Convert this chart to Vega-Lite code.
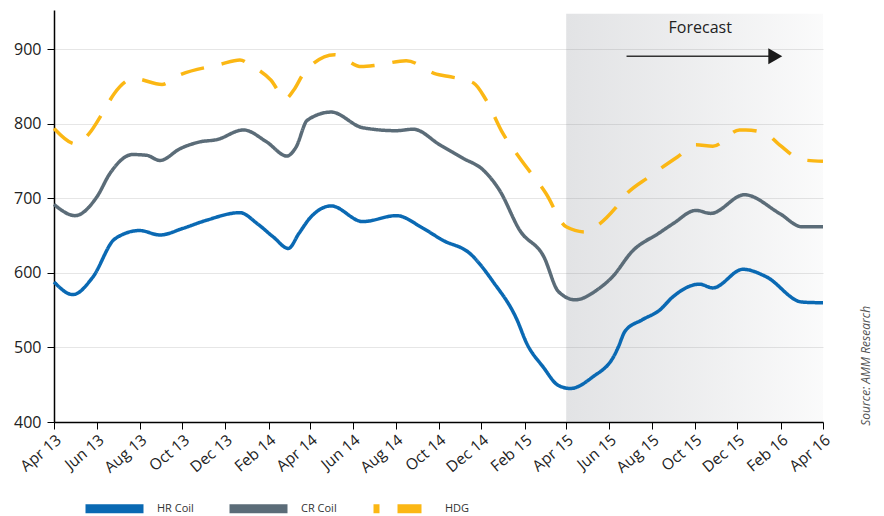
{
  "$schema": "https://vega.github.io/schema/vega-lite/v6.json",
  "width": 769,
  "height": 412,
  "autosize": {"type": "none"},
  "padding": {"left": 54, "top": 10, "right": 61, "bottom": 94},
  "background": "white",
  "config": {"view": {"stroke": null}, "font": "Open Sans"},
  "encoding": {
    "x": {
      "field": "date", "type": "temporal",
      "scale": {"type": "utc", "domain": [{"year": 2013, "month": "Apr", "date": 1, "utc": true}, {"year": 2016, "month": "Apr", "date": 1, "utc": true}]},
      "axis": {
        "title": null,
        "values": [
          {"year": 2013, "month": "Apr", "date": 1, "utc": true}, {"year": 2013, "month": "Jun", "date": 1, "utc": true},
          {"year": 2013, "month": "Aug", "date": 1, "utc": true}, {"year": 2013, "month": "Oct", "date": 1, "utc": true},
          {"year": 2013, "month": "Dec", "date": 1, "utc": true}, {"year": 2014, "month": "Feb", "date": 1, "utc": true},
          {"year": 2014, "month": "Apr", "date": 1, "utc": true}, {"year": 2014, "month": "Jun", "date": 1, "utc": true},
          {"year": 2014, "month": "Aug", "date": 1, "utc": true}, {"year": 2014, "month": "Oct", "date": 1, "utc": true},
          {"year": 2014, "month": "Dec", "date": 1, "utc": true}, {"year": 2015, "month": "Feb", "date": 1, "utc": true},
          {"year": 2015, "month": "Apr", "date": 1, "utc": true}, {"year": 2015, "month": "Jun", "date": 1, "utc": true},
          {"year": 2015, "month": "Aug", "date": 1, "utc": true}, {"year": 2015, "month": "Oct", "date": 1, "utc": true},
          {"year": 2015, "month": "Dec", "date": 1, "utc": true}, {"year": 2016, "month": "Feb", "date": 1, "utc": true},
          {"year": 2016, "month": "Apr", "date": 1, "utc": true}
        ],
        "labelExpr": "utcFormat(datum.value, '%b %y')",
        "labelAngle": -40, "labelAlign": "right", "labelBaseline": "top",
        "labelFontSize": 15.5, "labelColor": "#222", "labelPadding": 3,
        "labelOverlap": false, "labelFlush": false,
        "tickSize": 7, "tickColor": "#000", "domainColor": "#000", "domainWidth": 1.5, "grid": false
      }
    },
    "y": {
      "field": "value", "type": "quantitative",
      "scale": {"domain": [400, 953], "nice": false, "zero": false},
      "axis": {
        "title": null, "values": [400, 500, 600, 700, 800, 900],
        "labelFontSize": 16, "labelColor": "#222", "labelPadding": 6,
        "tickSize": 7, "tickColor": "#000", "domainColor": "#000", "domainWidth": 1.5,
        "grid": true, "gridColor": "#e6e6e6", "gridWidth": 1.2
      }
    }
  },
  "layer": [
    {
      "data": {"values": [{"date": "2015-04-01", "date2": "2016-04-01", "value": 400, "value2": 948}]},
      "mark": {"type": "rect", "fill": {"gradient": "linear", "x1": 0, "x2": 1, "y1": 0, "y2": 0, "stops": [{"offset": 0, "color": "rgba(110,115,125,0.2)"}, {"offset": 0.5, "color": "rgba(110,115,125,0.12)"}, {"offset": 1, "color": "rgba(110,115,125,0.03)"}]}},
      "encoding": {"x2": {"field": "date2"}, "y2": {"field": "value2"}}
    },
    {
      "data": {"values": [
        {"series": "HR Coil", "date": "2013-04-01", "value": 588}, {"series": "HR Coil", "date": "2013-04-28", "value": 571},
        {"series": "HR Coil", "date": "2013-05-26", "value": 594}, {"series": "HR Coil", "date": "2013-06-27", "value": 646},
        {"series": "HR Coil", "date": "2013-08-01", "value": 657}, {"series": "HR Coil", "date": "2013-08-30", "value": 651},
        {"series": "HR Coil", "date": "2013-10-02", "value": 660}, {"series": "HR Coil", "date": "2013-11-05", "value": 671},
        {"series": "HR Coil", "date": "2013-12-22", "value": 681}, {"series": "HR Coil", "date": "2014-01-16", "value": 666},
        {"series": "HR Coil", "date": "2014-02-08", "value": 648}, {"series": "HR Coil", "date": "2014-03-01", "value": 633},
        {"series": "HR Coil", "date": "2014-03-16", "value": 653}, {"series": "HR Coil", "date": "2014-04-01", "value": 674},
        {"series": "HR Coil", "date": "2014-05-01", "value": 690}, {"series": "HR Coil", "date": "2014-06-15", "value": 669},
        {"series": "HR Coil", "date": "2014-08-02", "value": 677}, {"series": "HR Coil", "date": "2014-09-09", "value": 660},
        {"series": "HR Coil", "date": "2014-10-07", "value": 644}, {"series": "HR Coil", "date": "2014-11-15", "value": 626},
        {"series": "HR Coil", "date": "2014-12-18", "value": 588}, {"series": "HR Coil", "date": "2015-01-20", "value": 539},
        {"series": "HR Coil", "date": "2015-02-04", "value": 505}, {"series": "HR Coil", "date": "2015-02-27", "value": 474},
        {"series": "HR Coil", "date": "2015-03-21", "value": 449}, {"series": "HR Coil", "date": "2015-04-07", "value": 445},
        {"series": "HR Coil", "date": "2015-05-08", "value": 460}, {"series": "HR Coil", "date": "2015-06-10", "value": 492},
        {"series": "HR Coil", "date": "2015-06-14", "value": 500}, {"series": "HR Coil", "date": "2015-06-24", "value": 522},
        {"series": "HR Coil", "date": "2015-07-18", "value": 537}, {"series": "HR Coil", "date": "2015-08-12", "value": 550},
        {"series": "HR Coil", "date": "2015-08-31", "value": 568}, {"series": "HR Coil", "date": "2015-10-08", "value": 585},
        {"series": "HR Coil", "date": "2015-10-27", "value": 580}, {"series": "HR Coil", "date": "2015-12-09", "value": 605},
        {"series": "HR Coil", "date": "2016-01-11", "value": 595}, {"series": "HR Coil", "date": "2016-03-02", "value": 561},
        {"series": "HR Coil", "date": "2016-04-01", "value": 560},
        {"series": "CR Coil", "date": "2013-04-01", "value": 692}, {"series": "CR Coil", "date": "2013-05-01", "value": 677},
        {"series": "CR Coil", "date": "2013-06-01", "value": 702}, {"series": "CR Coil", "date": "2013-06-20", "value": 734},
        {"series": "CR Coil", "date": "2013-07-22", "value": 759}, {"series": "CR Coil", "date": "2013-08-11", "value": 758},
        {"series": "CR Coil", "date": "2013-08-30", "value": 751}, {"series": "CR Coil", "date": "2013-09-28", "value": 767},
        {"series": "CR Coil", "date": "2013-10-26", "value": 776}, {"series": "CR Coil", "date": "2013-11-19", "value": 779},
        {"series": "CR Coil", "date": "2013-12-27", "value": 792}, {"series": "CR Coil", "date": "2014-01-29", "value": 776},
        {"series": "CR Coil", "date": "2014-02-27", "value": 757}, {"series": "CR Coil", "date": "2014-03-12", "value": 769},
        {"series": "CR Coil", "date": "2014-03-28", "value": 805}, {"series": "CR Coil", "date": "2014-05-01", "value": 816},
        {"series": "CR Coil", "date": "2014-06-15", "value": 795}, {"series": "CR Coil", "date": "2014-08-02", "value": 791},
        {"series": "CR Coil", "date": "2014-08-26", "value": 793}, {"series": "CR Coil", "date": "2014-10-03", "value": 772},
        {"series": "CR Coil", "date": "2014-11-05", "value": 754}, {"series": "CR Coil", "date": "2014-12-04", "value": 738},
        {"series": "CR Coil", "date": "2014-12-27", "value": 711}, {"series": "CR Coil", "date": "2015-01-25", "value": 657},
        {"series": "CR Coil", "date": "2015-02-28", "value": 622}, {"series": "CR Coil", "date": "2015-03-21", "value": 575},
        {"series": "CR Coil", "date": "2015-04-14", "value": 564}, {"series": "CR Coil", "date": "2015-05-16", "value": 578},
        {"series": "CR Coil", "date": "2015-06-06", "value": 595}, {"series": "CR Coil", "date": "2015-07-04", "value": 629},
        {"series": "CR Coil", "date": "2015-08-12", "value": 654}, {"series": "CR Coil", "date": "2015-08-31", "value": 666},
        {"series": "CR Coil", "date": "2015-10-03", "value": 684}, {"series": "CR Coil", "date": "2015-10-24", "value": 680},
        {"series": "CR Coil", "date": "2015-12-11", "value": 705}, {"series": "CR Coil", "date": "2016-01-30", "value": 680},
        {"series": "CR Coil", "date": "2016-03-02", "value": 662}, {"series": "CR Coil", "date": "2016-04-01", "value": 662},
        {"series": "HDG", "date": "2013-04-01", "value": 794}, {"series": "HDG", "date": "2013-05-03", "value": 773},
        {"series": "HDG", "date": "2013-05-21", "value": 787}, {"series": "HDG", "date": "2013-06-10", "value": 816},
        {"series": "HDG", "date": "2013-06-26", "value": 841}, {"series": "HDG", "date": "2013-07-24", "value": 861},
        {"series": "HDG", "date": "2013-09-02", "value": 853}, {"series": "HDG", "date": "2013-09-23", "value": 864},
        {"series": "HDG", "date": "2013-11-24", "value": 880}, {"series": "HDG", "date": "2013-12-22", "value": 886},
        {"series": "HDG", "date": "2014-01-06", "value": 879}, {"series": "HDG", "date": "2014-02-04", "value": 859},
        {"series": "HDG", "date": "2014-02-25", "value": 834}, {"series": "HDG", "date": "2014-03-09", "value": 846},
        {"series": "HDG", "date": "2014-03-23", "value": 868}, {"series": "HDG", "date": "2014-05-06", "value": 893},
        {"series": "HDG", "date": "2014-06-13", "value": 877}, {"series": "HDG", "date": "2014-07-06", "value": 879},
        {"series": "HDG", "date": "2014-08-16", "value": 885}, {"series": "HDG", "date": "2014-09-28", "value": 867},
        {"series": "HDG", "date": "2014-10-14", "value": 864}, {"series": "HDG", "date": "2014-11-20", "value": 855},
        {"series": "HDG", "date": "2014-12-08", "value": 832}, {"series": "HDG", "date": "2015-01-01", "value": 787},
        {"series": "HDG", "date": "2015-01-25", "value": 754}, {"series": "HDG", "date": "2015-03-03", "value": 707},
        {"series": "HDG", "date": "2015-04-01", "value": 662}, {"series": "HDG", "date": "2015-04-29", "value": 655},
        {"series": "HDG", "date": "2015-05-16", "value": 664}, {"series": "HDG", "date": "2015-06-10", "value": 687},
        {"series": "HDG", "date": "2015-06-24", "value": 704}, {"series": "HDG", "date": "2015-07-28", "value": 729},
        {"series": "HDG", "date": "2015-09-07", "value": 756}, {"series": "HDG", "date": "2015-10-03", "value": 772},
        {"series": "HDG", "date": "2015-10-27", "value": 770}, {"series": "HDG", "date": "2015-12-04", "value": 792},
        {"series": "HDG", "date": "2015-12-13", "value": 792}, {"series": "HDG", "date": "2016-01-11", "value": 787},
        {"series": "HDG", "date": "2016-01-30", "value": 772}, {"series": "HDG", "date": "2016-03-02", "value": 752},
        {"series": "HDG", "date": "2016-04-01", "value": 750}
      ]},
      "mark": {"type": "line", "interpolate": "monotone", "strokeWidth": 3.5},
      "encoding": {
        "color": {
          "field": "series", "type": "nominal",
          "scale": {"domain": ["HR Coil", "CR Coil", "HDG"], "range": ["#0a69b3", "#5b6c78", "#fbb714"]},
          "legend": {"title": null, "orient": "none", "legendX": 27, "legendY": 465, "direction": "horizontal", "columns": 3, "gridAlign": "all", "columnPadding": 17, "symbolType": "stroke", "symbolSize": 3364, "symbolStrokeWidth": 9, "symbolDashOffset": 18, "labelFontSize": 11, "labelColor": "#333", "labelOffset": 9}
        },
        "strokeDash": {
          "field": "series", "type": "nominal",
          "scale": {"domain": ["HR Coil", "CR Coil", "HDG"], "range": [[1, 0], [1, 0], [24, 18]]},
          "legend": {"title": null, "orient": "none", "legendX": 27, "legendY": 465, "direction": "horizontal", "columns": 3, "gridAlign": "all", "columnPadding": 17, "symbolType": "stroke", "symbolSize": 3364, "symbolStrokeWidth": 9, "symbolDashOffset": 18, "labelFontSize": 11, "labelColor": "#333", "labelOffset": 9}
        }
      }
    },
    {
      "data": {"values": [{"date": "2015-06-26", "date2": "2016-01-18", "value": 891}]},
      "mark": {"type": "rule", "color": "#333", "strokeWidth": 1.5},
      "encoding": {"x2": {"field": "date2"}}
    },
    {
      "data": {"values": [{"date": "2016-01-24", "value": 891}]},
      "mark": {"type": "point", "shape": "triangle-right", "filled": true, "color": "#1a1a1a", "size": 260, "opacity": 1}
    },
    {
      "data": {"values": [{"date": "2015-10-09", "value": 929, "label": "Forecast"}]},
      "mark": {"type": "text", "fontSize": 16, "color": "#222", "align": "center", "baseline": "middle"},
      "encoding": {"text": {"field": "label"}}
    },
    {
      "data": {"values": [{"date": "2016-06-01", "value": 395, "label": "Source: AMM Research"}]},
      "mark": {"type": "text", "fontSize": 12, "fontStyle": "italic", "color": "#555", "angle": 270, "align": "left", "baseline": "middle"},
      "encoding": {"text": {"field": "label"}}
    }
  ]
}
